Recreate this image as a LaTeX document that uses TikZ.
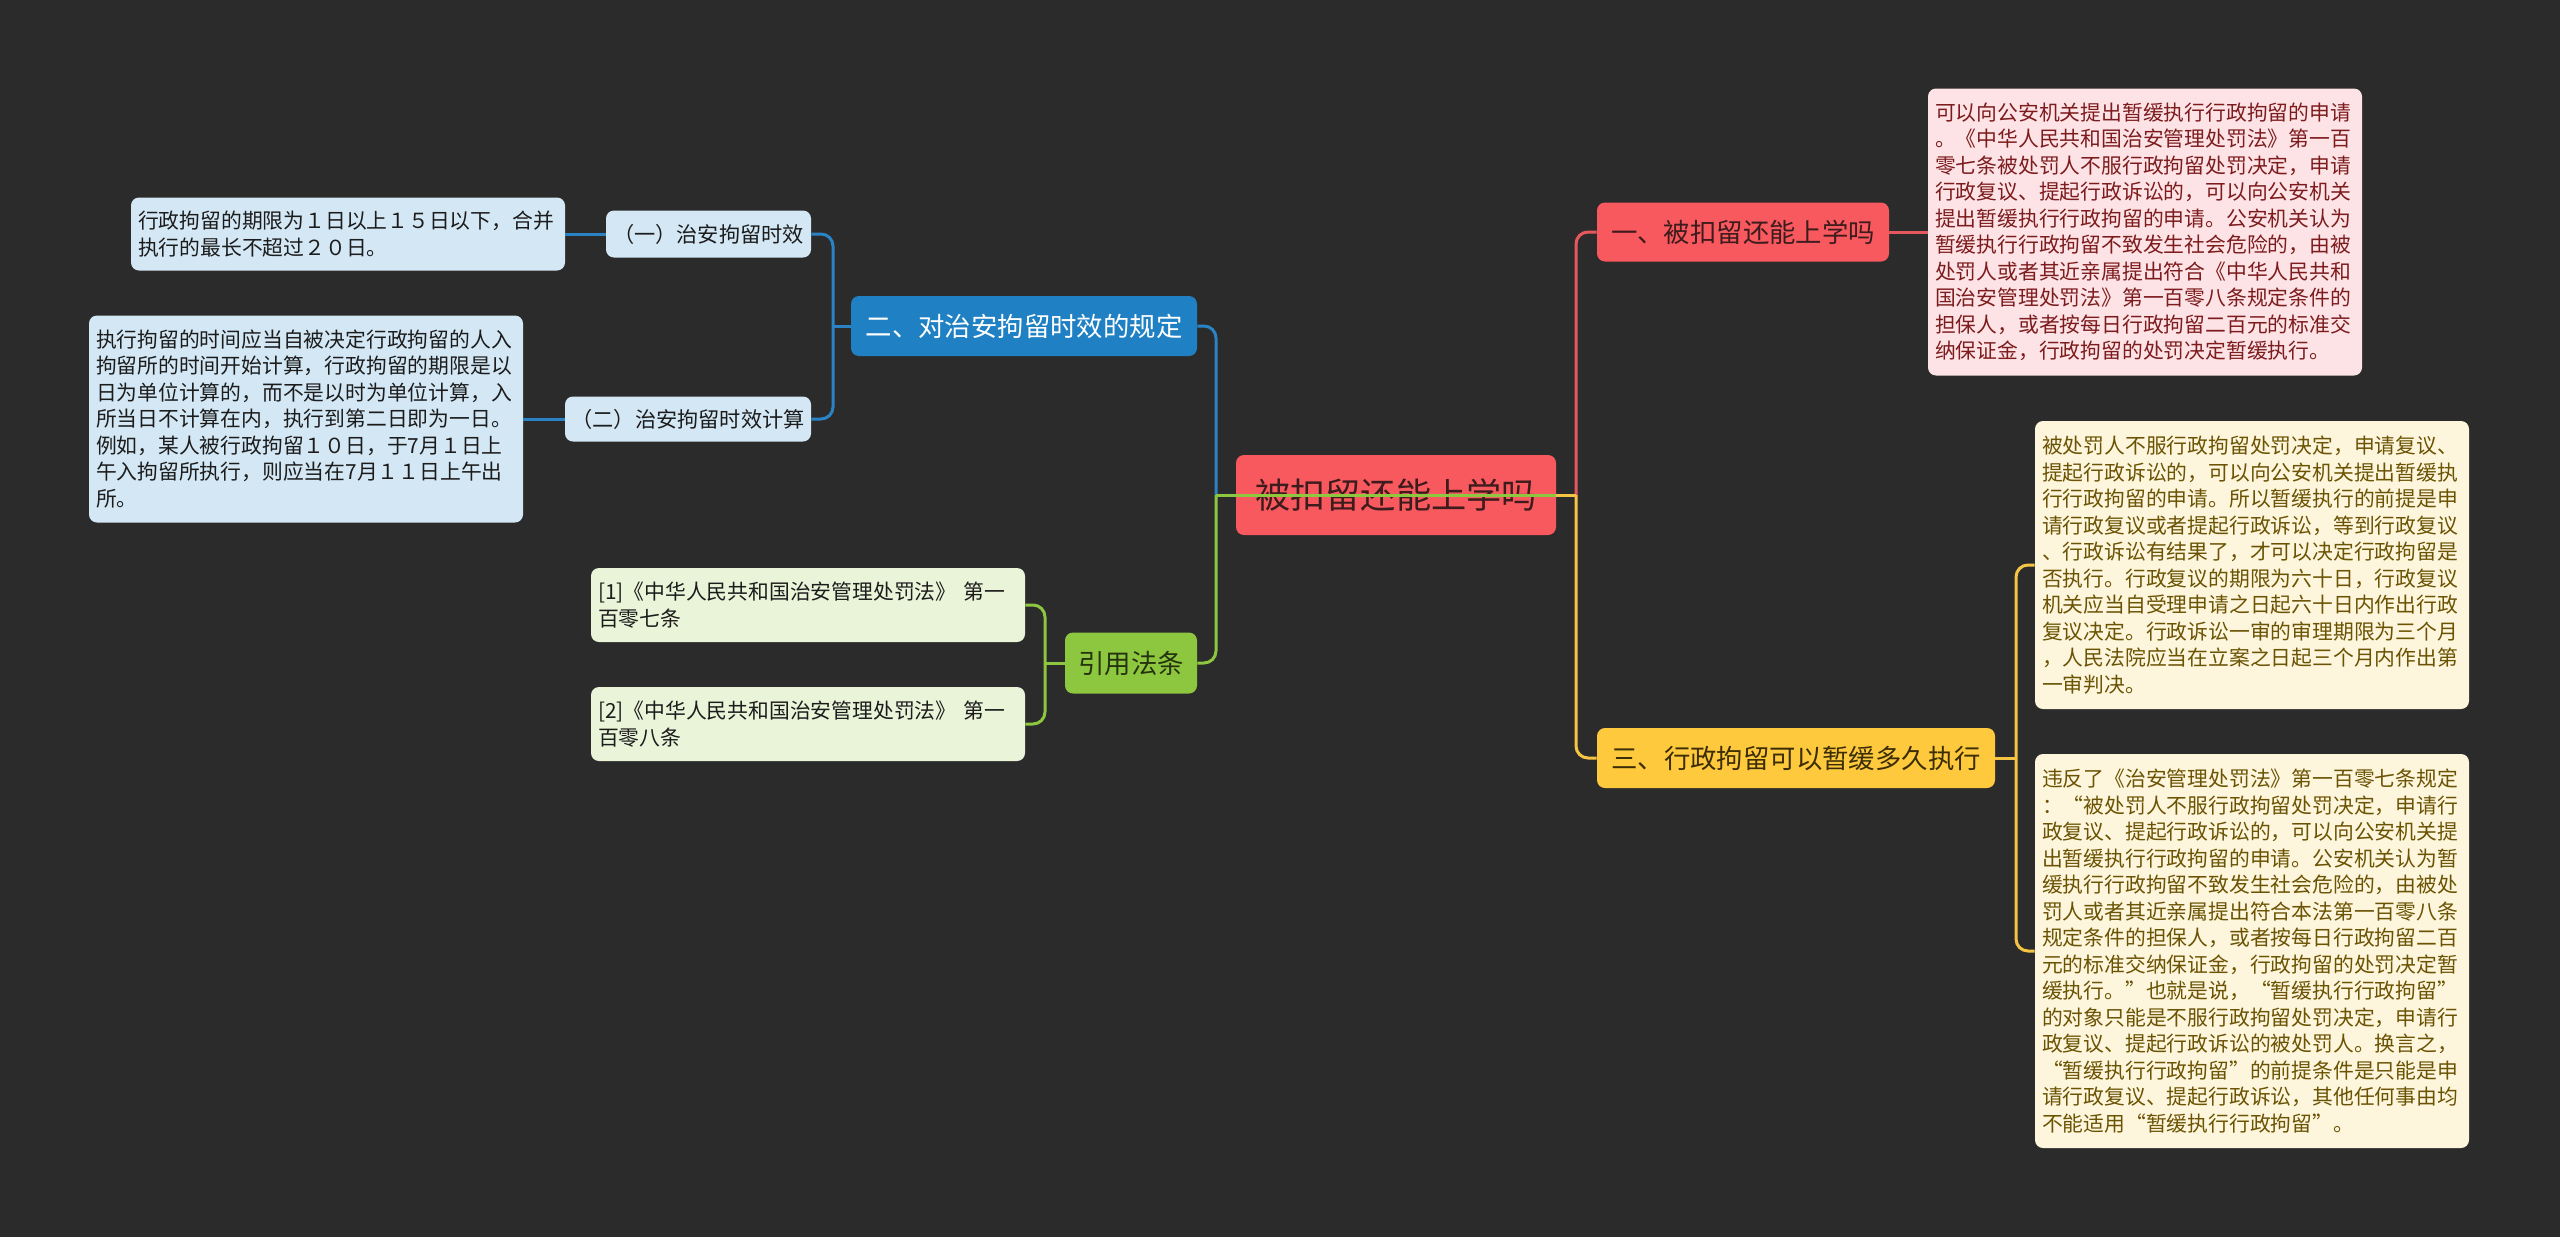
\documentclass[tikz,border=0pt]{standalone}
\usepackage{fontspec}
\setmainfont{Noto Sans CJK SC}
\definecolor{bg}{HTML}{2B2B2B}
\definecolor{rootfill}{HTML}{F8595E}
\definecolor{roottext}{HTML}{3E1B1C}
\definecolor{redline}{HTML}{E6585D}
\definecolor{pinkfill}{HTML}{FDE3E5}
\definecolor{pinktext}{HTML}{7D1C1E}
\definecolor{yelfill}{HTML}{FFC93E}
\definecolor{yeltext}{HTML}{3B2E05}
\definecolor{creamfill}{HTML}{FEF6DC}
\definecolor{creamtext}{HTML}{6B5304}
\definecolor{yelline}{HTML}{F5C444}
\definecolor{bluefill}{HTML}{1F81C4}
\definecolor{blueline}{HTML}{2A83C5}
\definecolor{lbluefill}{HTML}{D3E7F4}
\definecolor{darktext}{HTML}{1C1C1C}
\definecolor{greenfill}{HTML}{8DC63F}
\definecolor{greentext}{HTML}{26330F}
\definecolor{greenline}{HTML}{8DC63F}
\definecolor{lgreenfill}{HTML}{EAF4D9}
\begin{document}
\begin{tikzpicture}[x=0.5pt,y=-0.5pt,
  topic/.style={rounded corners=4pt, inner sep=0pt, align=center, anchor=center},
  tbox/.style={rounded corners=4pt, inner xsep=3.5pt, inner ysep=0pt, text width=210pt, align=left, anchor=center,
    font=\fontsize{10.4pt}{13.25pt}\selectfont},
  sub/.style={topic, font=\fontsize{10.6pt}{13pt}\selectfont},
  main/.style={topic, font=\fontsize{13.2pt}{16pt}\selectfont},
  edge/.style={line width=1.5pt},
  rc/.style={rounded corners=6pt}
]
\useasboundingbox[fill=bg] (0,0) rectangle (2560,1237);

% root
\node[topic, fill=rootfill, text=roottext, minimum width=160pt, minimum height=40pt,
  font=\fontsize{17.6pt}{20pt}\selectfont] (root) at (1396,495) {被扣留还能上学吗};

% right side
\node[main, fill=rootfill, text=roottext, minimum width=146pt, minimum height=29.5pt] (n1) at (1743,232) {一、被扣留还能上学吗};
\node[main, fill=yelfill, text=yeltext, minimum width=199pt, minimum height=30pt] (n3) at (1796,758) {三、行政拘留可以暂缓多久执行};

\node[tbox, fill=pinkfill, text=pinktext, minimum height=143.5pt] (pink) at (2145,232) {可以向公安机关提出暂缓执行行政拘留的申请\\
。《中华人民共和国治安管理处罚法》第一百\\
零七条被处罚人不服行政拘留处罚决定，申请\\
行政复议、提起行政诉讼的，可以向公安机关\\
提出暂缓执行行政拘留的申请。公安机关认为\\
暂缓执行行政拘留不致发生社会危险的，由被\\
处罚人或者其近亲属提出符合《中华人民共和\\
国治安管理处罚法》第一百零八条规定条件的\\
担保人，或者按每日行政拘留二百元的标准交\\
纳保证金，行政拘留的处罚决定暂缓执行。};

\node[tbox, fill=creamfill, text=creamtext, minimum height=144pt] (y1) at (2252,565) {被处罚人不服行政拘留处罚决定，申请复议、\\
提起行政诉讼的，可以向公安机关提出暂缓执\\
行行政拘留的申请。所以暂缓执行的前提是申\\
请行政复议或者提起行政诉讼，等到行政复议\\
、行政诉讼有结果了，才可以决定行政拘留是\\
否执行。行政复议的期限为六十日，行政复议\\
机关应当自受理申请之日起六十日内作出行政\\
复议决定。行政诉讼一审的审理期限为三个月\\
，人民法院应当在立案之日起三个月内作出第\\
一审判决。};

\node[tbox, fill=creamfill, text=creamtext, minimum height=197pt] (y2) at (2252,951) {违反了《治安管理处罚法》第一百零七条规定\\
：“被处罚人不服行政拘留处罚决定，申请行\\
政复议、提起行政诉讼的，可以向公安机关提\\
出暂缓执行行政拘留的申请。公安机关认为暂\\
缓执行行政拘留不致发生社会危险的，由被处\\
罚人或者其近亲属提出符合本法第一百零八条\\
规定条件的担保人，或者按每日行政拘留二百\\
元的标准交纳保证金，行政拘留的处罚决定暂\\
缓执行。”也就是说，“暂缓执行行政拘留”\\
的对象只能是不服行政拘留处罚决定，申请行\\
政复议、提起行政诉讼的被处罚人。换言之，\\
“暂缓执行行政拘留”的前提条件是只能是申\\
请行政复议、提起行政诉讼，其他任何事由均\\
不能适用“暂缓执行行政拘留”。};

% left side
\node[main, fill=bluefill, text=white, minimum width=173pt, minimum height=30pt] (n2) at (1024,326) {二、对治安拘留时效的规定};
\node[main, fill=greenfill, text=greentext, minimum width=66pt, minimum height=30.5pt] (cite) at (1131,663) {引用法条};

\node[sub, fill=lbluefill, text=darktext, minimum width=102.5pt, minimum height=23.5pt] (s1) at (708.5,234) {（一）治安拘留时效};
\node[sub, fill=lbluefill, text=darktext, minimum width=123pt, minimum height=22.5pt] (s2) at (688,419) {（二）治安拘留时效计算};

\node[tbox, fill=lbluefill, text=darktext, minimum height=36.5pt] (L1) at (348,234) {行政拘留的期限为１日以上１５日以下，合并\\
执行的最长不超过２０日。};
\node[tbox, fill=lbluefill, text=darktext, minimum height=103.5pt] (L2) at (306,419) {执行拘留的时间应当自被决定行政拘留的人入\\
拘留所的时间开始计算，行政拘留的期限是以\\
日为单位计算的，而不是以时为单位计算，入\\
所当日不计算在内，执行到第二日即为一日。\\
例如，某人被行政拘留１０日，于7月１日上\\
午入拘留所执行，则应当在7月１１日上午出\\
所。};

\node[tbox, fill=lgreenfill, text=darktext, minimum height=37pt] (c1) at (808,605) {[1]《中华人民共和国治安管理处罚法》 第一\\
百零七条};
\node[tbox, fill=lgreenfill, text=darktext, minimum height=37pt] (c2) at (808,724) {[2]《中华人民共和国治安管理处罚法》 第一\\
百零八条};

% junctions
\coordinate (jl) at (1216,495);
\coordinate (jr) at (1576,495);
\coordinate (jb) at (833,326);
\coordinate (jg) at (1045,663);
\coordinate (jy) at (2016,758);

% connectors (drawn over root as in the reference)
\draw[edge, draw=blueline] (root.east) -- (jl);
\draw[edge, draw=blueline, rc] (jl) |- (n2.east);
\draw[edge, draw=greenline, rc] (jl) |- (cite.east);
\draw[edge, draw=greenline] (root.east) -- (jl);
\draw[edge, draw=redline] (root.east) -- (jr);
\draw[edge, draw=redline, rc] (jr) |- (n1.west);
\draw[edge, draw=yelline] (root.east) -- (jr);
\draw[edge, draw=yelline, rc] (jr) |- (n3.west);

\draw[edge, draw=blueline] (n2.west) -- (jb);
\draw[edge, draw=blueline, rc] (jb) |- (s1.east);
\draw[edge, draw=blueline, rc] (jb) |- (s2.east);
\draw[edge, draw=blueline] (s1.west) -- (L1.east);
\draw[edge, draw=blueline] (s2.west) -- (L2.east);

\draw[edge, draw=greenline] (cite.west) -- (jg);
\draw[edge, draw=greenline, rc] (jg) |- (c1.east);
\draw[edge, draw=greenline, rc] (jg) |- (c2.east);

\draw[edge, draw=redline] (n1.east) -- (pink.west);

\draw[edge, draw=yelline] (n3.east) -- (jy);
\draw[edge, draw=yelline, rc] (jy) |- (y1.west);
\draw[edge, draw=yelline, rc] (jy) |- (y2.west);
\end{tikzpicture}
\end{document}
